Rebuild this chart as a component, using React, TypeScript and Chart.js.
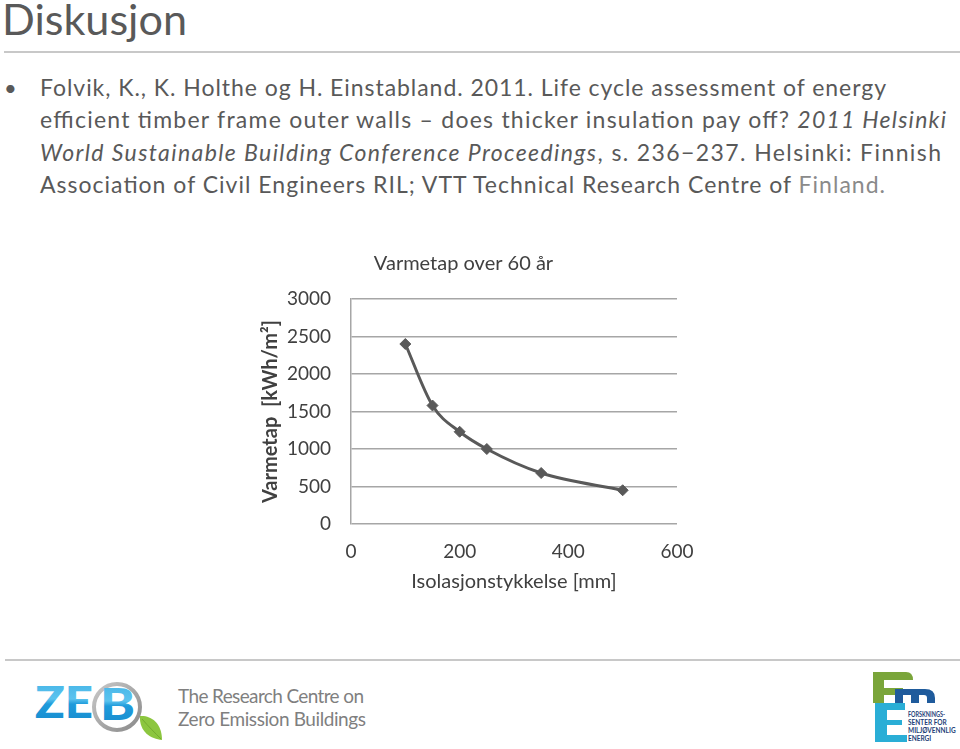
import React, { useEffect, useRef } from "react";
import { Chart, registerables } from "chart.js";

Chart.register(...registerables);

// ---- data ----
const thicknessMm = [100, 150, 200, 250, 350, 500];
const heatLossKWh = [2400, 1580, 1230, 1000, 680, 450];
const xTickValues = [0, 200, 400, 600];
const yTickValues = [0, 500, 1000, 1500, 2000, 2500, 3000];
const chartTitle = "Varmetap over 60 år";
const xAxisTitle = "Isolasjonstykkelse [mm]";
const yAxisTitle = "Varmetap  [kWh/m²]";

const FONT = "Lato, 'Open Sans', sans-serif";
const TEXT = "#404040";
const GRID = "#a6a6a6";

function HeatChart() {
  const ref = useRef<HTMLCanvasElement | null>(null);
  useEffect(() => {
    if (!ref.current) return;
    const chart = new Chart(ref.current, {
      type: "scatter",
      data: {
        datasets: [
          {
            data: thicknessMm.map((x, i) => ({ x, y: heatLossKWh[i] })),
            showLine: true,
            borderColor: "#595959",
            backgroundColor: "#595959",
            borderWidth: 3,
            pointStyle: "rectRot",
            pointRadius: 5.5,
            pointBorderWidth: 1,
            pointBorderColor: "#595959",
            tension: 0.4,
            cubicInterpolationMode: "monotone",
          } as any,
        ],
      },
      options: {
        animation: false,
        responsive: false,
        maintainAspectRatio: false,
        layout: { padding: { left: 0, right: 33, top: 0, bottom: 0 } },
        plugins: {
          legend: { display: false },
          tooltip: { enabled: false },
          title: {
            display: true,
            text: chartTitle,
            color: TEXT,
            font: { family: FONT, size: 20, weight: "normal" },
            padding: { top: 11.5, bottom: 23.5 },
          },
        },
        scales: {
          x: {
            type: "linear",
            min: 0,
            max: 600,
            afterBuildTicks: (s: any) => {
              s.ticks = xTickValues.map((v) => ({ value: v }));
            },
            grid: { drawOnChartArea: false, drawTicks: false },
            border: { display: false },
            ticks: {
              padding: 16,
              color: TEXT,
              font: { family: FONT, size: 19 },
              callback: (v: any) => String(v),
            },
            title: {
              display: true,
              text: xAxisTitle,
              color: TEXT,
              font: { family: FONT, size: 20 },
              padding: { top: 0, bottom: 6 },
            },
            afterFit: (s: any) => {
              s.height = 76;
            },
          },
          y: {
            type: "linear",
            min: 0,
            max: 3000,
            afterBuildTicks: (s: any) => {
              s.ticks = yTickValues.map((v) => ({ value: v }));
            },
            grid: { color: GRID, lineWidth: 1.5, drawTicks: false },
            border: { display: true, color: GRID, width: 1.5 },
            ticks: {
              padding: 20,
              color: TEXT,
              font: { family: FONT, size: 19 },
              callback: (v: any) => String(v),
            },
            title: {
              display: true,
              text: yAxisTitle,
              color: TEXT,
              font: { family: FONT, size: 20, weight: "bold" },
              padding: { top: 8.7, bottom: 0 },
            },
            afterFit: (s: any) => {
              s.width = 101;
            },
          },
        },
      } as any,
    });
    return () => chart.destroy();
  }, []);
  return (
    <canvas
      ref={ref}
      width={460}
      height={360}
      style={{ position: "absolute", left: 250, top: 240, width: 460, height: 360 }}
    />
  );
}

export default function App() {
  const body = "#595959";
  return (
    <div
      style={{
        position: "absolute",
        left: 0,
        top: 0,
        width: 960,
        height: 749,
        background: "#ffffff",
        overflow: "hidden",
      }}
    >
      <svg
        width={960}
        height={749}
        style={{ position: "absolute", left: 0, top: 0 }}
        fontFamily={FONT}
      >
        <defs>
          <linearGradient id="zebBlue" x1="0" y1="0" x2="0" y2="1">
            <stop offset="0" stopColor="#3fb2e6" />
            <stop offset="0.45" stopColor="#5cc3ee" />
            <stop offset="0.55" stopColor="#1f9bdb" />
            <stop offset="1" stopColor="#1689cc" />
          </linearGradient>
          <linearGradient id="ringGrey" x1="0" y1="0" x2="1" y2="1">
            <stop offset="0" stopColor="#c8c8c8" />
            <stop offset="1" stopColor="#8a8a8a" />
          </linearGradient>
        </defs>
        {/* slide title */}
        <text x={2} y={35} fontSize={42} fontWeight={400} fill={body} textLength={185} lengthAdjust="spacingAndGlyphs">
          Diskusjon
        </text>
        <rect x={4} y={51} width={956} height={2} fill="#c8c8c8" />

        {/* bullet text */}
        <text x={4} y={96} fontSize={22} fill={body}>•</text>
        <text x={40} y={96} fontSize={23} fill={body} textLength={846} lengthAdjust="spacing">
          Folvik, K., K. Holthe og H. Einstabland. 2011. Life cycle assessment of energy
        </text>
        <text x={40} y={128} fontSize={23} fill={body} textLength={906} lengthAdjust="spacing">
          efficient timber frame outer walls – does thicker insulation pay off?{" "}
          <tspan fontStyle="italic">2011 Helsinki</tspan>
        </text>
        <text x={40} y={161} fontSize={23} fill={body} textLength={901} lengthAdjust="spacing">
          <tspan fontStyle="italic">World Sustainable Building Conference Proceedings</tspan>, s. 236−237. Helsinki: Finnish
        </text>
        <text x={40} y={193} fontSize={23} fill={body} textLength={845} lengthAdjust="spacing">
          Association of Civil Engineers RIL; VTT Technical Research Centre of{" "}
          <tspan fill="#8a8a8a">Finland.</tspan>
        </text>

        {/* footer rule */}
        <rect x={5} y={659} width={955} height={2} fill="#c8c8c8" />

        {/* ZEB logo */}
        <circle cx={117} cy={707} r={23} fill="none" stroke="url(#ringGrey)" strokeWidth={4} />
        <text x={35} y={718} fontSize={43} fontWeight={900} fill="url(#zebBlue)" textLength={58} lengthAdjust="spacingAndGlyphs">
          ZE
        </text>
        <text x={100} y={720} fontSize={43} fontWeight={900} fill="url(#zebBlue)" textLength={35} lengthAdjust="spacingAndGlyphs">
          B
        </text>
        <path d="M140 716 C 150 715, 162 722, 162 740 C 151 739, 139 732, 140 716 Z" fill="#8cc63f" />
        <path d="M142 719 C 149 727, 155 733, 161 739" stroke="#74ab2f" strokeWidth={1} fill="none" />
        <text x={178} y={703} fontSize={19} fill="#7f7f7f" textLength={186} lengthAdjust="spacing">
          The Research Centre on
        </text>
        <text x={178} y={726} fontSize={19} fill="#7f7f7f" textLength={188} lengthAdjust="spacing">
          Zero Emission Buildings
        </text>

        {/* FME logo */}
        <rect x={873} y={672} width={11} height={31} fill="#7aa53a" />
        <path d="M873 672 H906 Q913 672 913 680 H873 Z" fill="#7aa53a" />
        <rect x={873} y={688} width={30} height={7} fill="#7aa53a" />
        <path
          d="M895 703 V689 H925 Q935 689 935 698 V703 H927 V698 Q927 695 924 695 H919 V703 H911 V695 H903 V703 Z"
          fill="#1f5b9c"
        />
        <rect x={875} y={703} width={12} height={39} fill="#2aaed6" />
        <rect x={875} y={703} width={30} height={7} fill="#2aaed6" />
        <rect x={875} y={720} width={27} height={5} fill="#2aaed6" />
        <rect x={875} y={735} width={32} height={7} fill="#2aaed6" />
        <g fontSize={6.5} fontWeight={700} fill="#1e3f78">
          <text x={908} y={717} textLength={37} lengthAdjust="spacingAndGlyphs">FORSKNINGS-</text>
          <text x={908} y={725}>SENTER FOR</text>
          <text x={908} y={733}>MILJØVENNLIG</text>
          <text x={908} y={741}>ENERGI</text>
        </g>
      </svg>
      <HeatChart />
    </div>
  );
}
